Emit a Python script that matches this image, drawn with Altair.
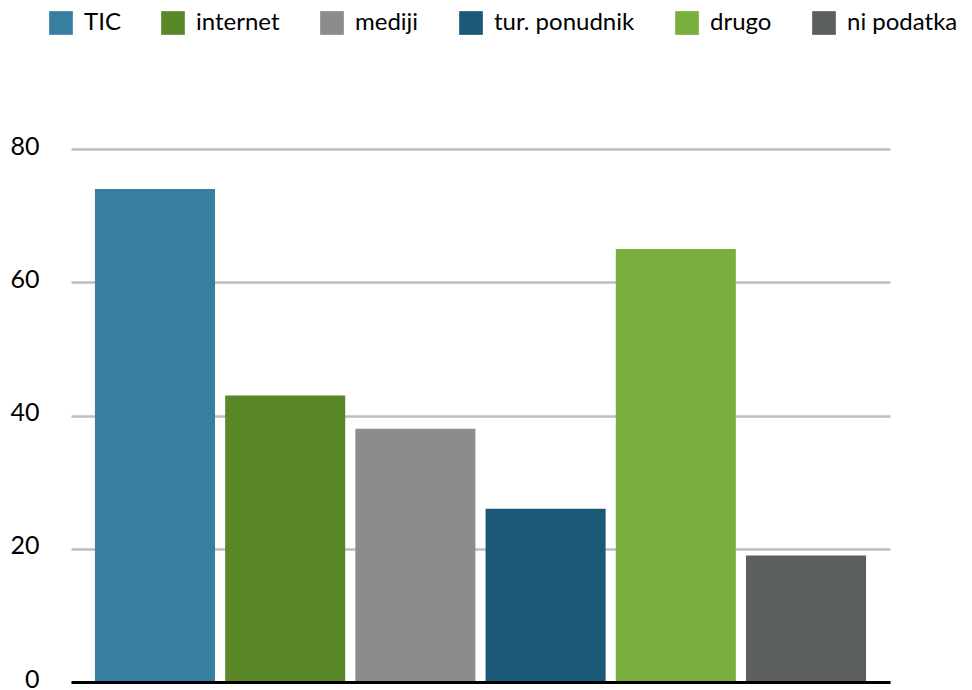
import altair as alt
import pandas as pd

categories = ["TIC", "internet", "mediji", "tur. ponudnik", "drugo", "ni podatka"]
values = [74, 43, 38, 26, 65, 19]
colors = ["#367FA1", "#5A8829", "#8C8C8C", "#1A5878", "#7AAF3D", "#5B5F5E"]
y_ticks = [0, 20, 40, 60, 80]

df = pd.DataFrame({"kategorija": categories, "vrednost": values})

FONT = "Lato"

chart = alt.Chart(df).mark_bar().encode(
    x=alt.X(
        "kategorija:N",
        sort=categories,
        scale=alt.Scale(paddingInner=0.078, paddingOuter=0.184),
        axis=alt.Axis(
            title=None, labels=False, ticks=False, domain=True,
            domainColor="#000000", domainWidth=3, grid=False, zindex=1,
        ),
    ),
    y=alt.Y(
        "vrednost:Q",
        scale=alt.Scale(domain=[0, 80], nice=False),
        axis=alt.Axis(
            title=None, values=y_ticks, ticks=False, domain=False,
            grid=True, gridColor="#BEBEBE", gridWidth=2.5,
            labelFont=FONT, labelFontSize=25, labelColor="#000000",
            labelPadding=32, labelOffset=-3,
        ),
    ),
    color=alt.Color(
        "kategorija:N",
        sort=categories,
        scale=alt.Scale(domain=categories, range=colors),
        legend=alt.Legend(
            title=None, orient="none", direction="horizontal",
            legendX=-22, legendY=-138, padding=0,
            symbolType="square", symbolSize=560, symbolStrokeWidth=0,
            symbolOpacity=1,
            labelFont=FONT, labelFontSize=24, labelColor="#000000",
            labelOffset=11, columnPadding=40, labelLimit=300,
        ),
    ),
).properties(
    width=819,
    height=533,
    autosize=alt.AutoSizeParams(type="none"),
    padding={"left": 71, "top": 149, "right": 82, "bottom": 8},
).configure(background="#ffffff").configure_view(stroke=None, strokeWidth=0)

chart.save("out.html", embed_options={"renderer": "svg", "actions": False})
